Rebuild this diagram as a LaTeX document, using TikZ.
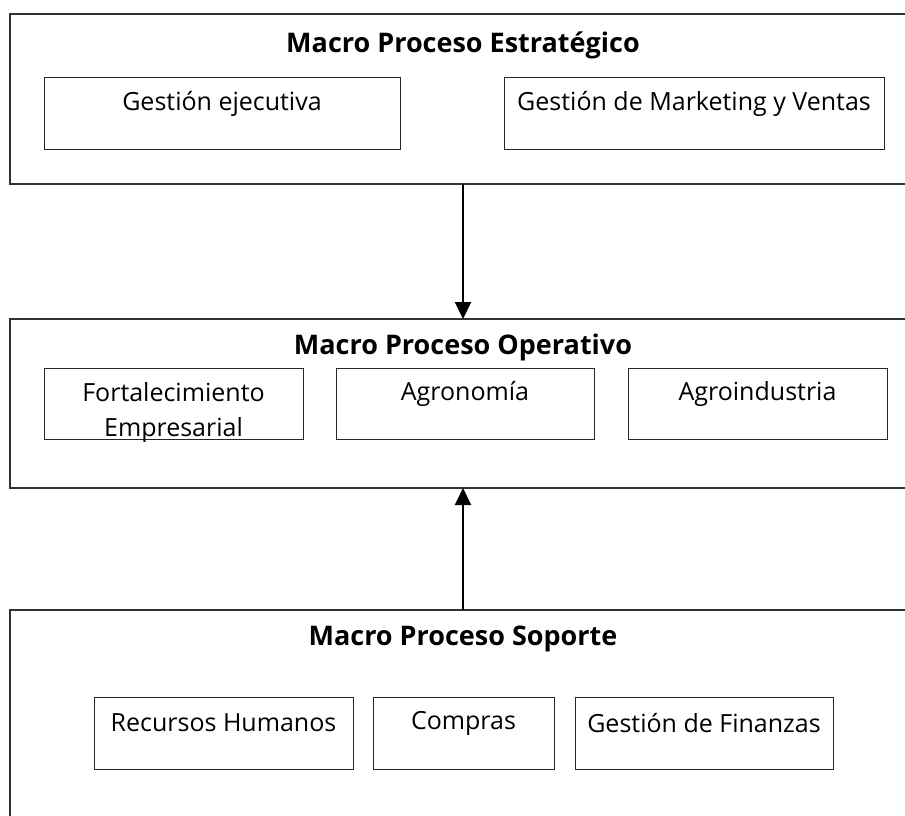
\documentclass[tikz,border=0pt]{standalone}
\usepackage{fontspec}
\setmainfont{Open Sans}
\usetikzlibrary{arrows.meta}
\begin{document}
\begin{tikzpicture}[x=1pt,y=-1pt,
  outerbox/.style={draw=black!80, line width=1.3pt},
  inbox/.style={draw=black!85, line width=1.1pt, rectangle, anchor=north west, inner sep=0pt},
  lbl/.style={font=\fontsize{25}{35}\selectfont, text=black, align=center},
  ttl/.style={font=\fontsize{27}{32}\selectfont\bfseries, text=black},
  conn/.style={line width=2pt, -{Triangle[length=17pt,width=16pt]}}]
\useasboundingbox (0,0) rectangle (905,815);
% outer boxes
\draw[outerbox] (930,14) -- (10,14) -- (10,184) -- (930,184);
\draw[outerbox] (930,319) -- (10,319) -- (10,488) -- (930,488);
\draw[outerbox] (930,610) -- (10,610) -- (10,830);
\coordinate (s1) at (463,184);
\coordinate (e1) at (463,319);
\coordinate (s2) at (463,610);
\coordinate (e2) at (463,488);
% titles
\node[ttl] (t1) at (463,45) {Macro Proceso Estratégico};
\node[ttl] (t2) at (463,347) {Macro Proceso Operativo};
\node[ttl] (t3) at (463,639) {Macro Proceso Soporte};
% top inner
\node[inbox, minimum width=356pt, minimum height=72pt] (g1) at (44,77) {};
\node[lbl] at (222,104) {Gestión ejecutiva};
\node[inbox, minimum width=380pt, minimum height=72pt] (g2) at (504,77) {};
\node[lbl] at (694,104) {Gestión de Marketing y Ventas};
% middle inner
\node[inbox, minimum width=259pt, minimum height=71pt] (o1) at (44,368) {};
\node[lbl] at (173.5,412) {Fortalecimiento\\Empresarial};
\node[inbox, minimum width=258pt, minimum height=71pt] (o2) at (336,368) {};
\node[lbl] at (465,394) {Agronomía};
\node[inbox, minimum width=259pt, minimum height=71pt] (o3) at (628,368) {};
\node[lbl] at (757.5,394) {Agroindustria};
% bottom inner
\node[inbox, minimum width=259pt, minimum height=72pt] (b1) at (94,697) {};
\node[lbl] at (223.5,723) {Recursos Humanos};
\node[inbox, minimum width=181pt, minimum height=72pt] (b2) at (373,697) {};
\node[lbl] at (463.5,723) {Compras};
\node[inbox, minimum width=258pt, minimum height=72pt] (b3) at (575,697) {};
\node[lbl] at (704,723) {Gestión de Finanzas};
% connectors
\draw[conn] (s1) -- (e1);
\draw[conn] (s2) -- (e2);
\end{tikzpicture}
\end{document}
